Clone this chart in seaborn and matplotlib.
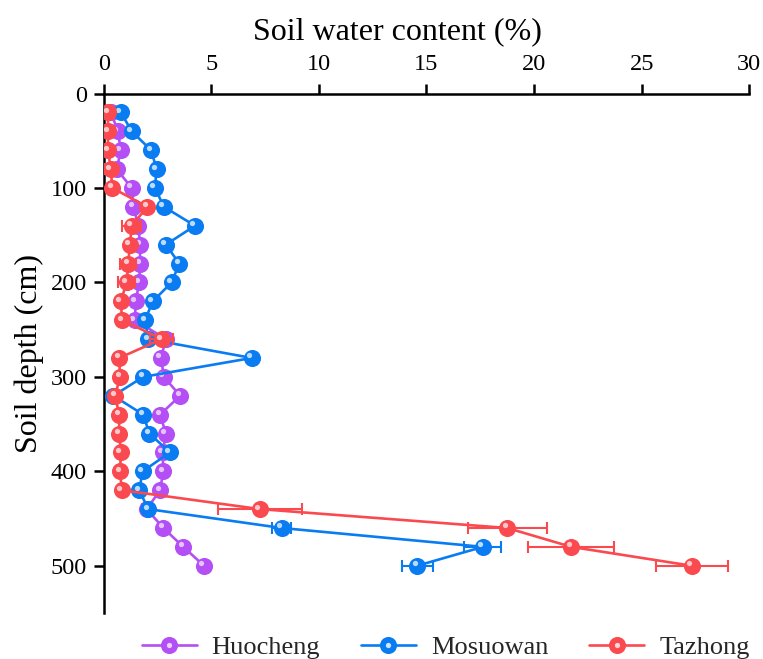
import matplotlib
matplotlib.use("Agg")
import numpy as np
import pandas as pd
import seaborn as sns
import matplotlib.pyplot as plt
from matplotlib.transforms import ScaledTranslation
from matplotlib.lines import Line2D
from matplotlib.legend_handler import HandlerTuple

# ---------------- data ----------------
depth = [20, 40, 60, 80, 100, 120, 140, 160, 180, 200, 220, 240, 260,
         280, 300, 320, 340, 360, 380, 400, 420, 440, 460, 480, 500]

huocheng = [0.35, 0.65, 0.80, 0.60, 1.30, 1.38, 1.61, 1.69, 1.69, 1.65, 1.49, 1.45, 2.89,
            2.66, 2.80, 3.55, 2.62, 2.89, 2.74, 2.77, 2.62, 2.00, 2.77, 3.70, 4.66]
huocheng_err = [0.05, 0.05, 0.05, 0.05, 0.05, 0.05, 0.05, 0.05, 0.05, 0.05, 0.05, 0.05, 0.05,
                0.05, 0.05, 0.05, 0.05, 0.05, 0.15, 0.05, 0.05, 0.20, 0.05, 0.05, 0.05]

mosuowan = [0.80, 1.30, 2.20, 2.46, 2.38, 2.80, 4.24, 2.89, 3.51, 3.16, 2.28, 1.92, 2.07,
            6.88, 1.84, 0.45, 1.84, 2.12, 3.08, 1.81, 1.65, 2.07, 8.27, 17.62, 14.56]
mosuowan_err = [0.05, 0.05, 0.05, 0.05, 0.05, 0.05, 0.05, 0.05, 0.05, 0.05, 0.05, 0.05, 0.10,
                0.10, 0.05, 0.15, 0.05, 0.05, 0.05, 0.05, 0.15, 0.15, 0.43, 0.86, 0.72]

tazhong = [0.20, 0.20, 0.20, 0.33, 0.40, 2.03, 1.30, 1.22, 1.14, 1.07, 0.79, 0.86, 2.70,
           0.72, 0.76, 0.53, 0.72, 0.72, 0.80, 0.76, 0.84, 7.26, 18.75, 21.73, 27.33]
tazhong_err = [0.10, 0.10, 0.10, 0.25, 0.05, 0.10, 0.45, 0.20, 0.37, 0.40, 0.10, 0.10, 0.54,
               0.05, 0.05, 0.05, 0.05, 0.05, 0.05, 0.05, 0.10, 1.95, 1.84, 2.00, 1.66]

sites = ["Huocheng", "Mosuowan", "Tazhong"]
colors = ["#b44ef5", "#0a7cf2", "#fa4a4f"]
highlights = ["#ead2fd", "#cfe6ff", "#ffd6d8"]
x_ticks = [0, 5, 10, 15, 20, 25, 30]
y_ticks = [0, 100, 200, 300, 400, 500]

# ---------------- figure ----------------
sns.set_theme(style="white")
plt.rcParams["font.family"] = ["Liberation Serif", "DejaVu Serif"]
plt.rcParams["mathtext.fontset"] = "stix"

W, H = 763, 659
AX_TOP, AX_BOT, AX_L, AX_R = 93.5, 613.0, 103.7, 749.3
fig = plt.figure(figsize=(W / 100, H / 100), dpi=100)
ax = fig.add_axes([AX_L / W, 1 - AX_BOT / H, (AX_R - AX_L) / W, (AX_BOT - AX_TOP) / H])

series = [huocheng, mosuowan, tazhong]
errors = [huocheng_err, mosuowan_err, tazhong_err]

ms = 12.3
hl_ms = 3.8
hl_shift = ScaledTranslation(-1.8 / 72, 1.8 / 72, fig.dpi_scale_trans)
handles = []
for i, (name, vals, errs, col, hcol) in enumerate(zip(sites, series, errors, colors, highlights)):
    df = pd.DataFrame({"swc": vals, "depth": depth})
    z = 3 + i * 3
    sns.lineplot(data=df, x="swc", y="depth", orient="y", sort=True, color=col,
                 linewidth=1.9, marker="o", markersize=ms, markeredgewidth=0,
                 markeredgecolor=col, ax=ax, zorder=z, estimator=None)
    ax.errorbar(df["swc"], df["depth"], xerr=errs, fmt="none", ecolor=col,
                elinewidth=1.5, capsize=4.5, capthick=1.5, zorder=z + 1)
    ax.plot(df["swc"], df["depth"], "o", ms=hl_ms, color=hcol, mec="none", alpha=0.9,
            transform=ax.transData + hl_shift, zorder=z + 2)
    h_main = Line2D([], [], color=col, lw=1.9, marker="o", ms=ms, mew=0)
    h_hl = Line2D([], [], color=hcol, lw=0, marker="o", ms=hl_ms, mew=0)
    handles.append((h_main, h_hl))

# ---------------- axes styling ----------------
ax.set_xlim(0, 30)
ax.set_ylim(550, 0)
ax.set_xticks(x_ticks)
ax.set_xticklabels([str(t) for t in x_ticks])
ax.set_yticks(y_ticks)
ax.set_yticklabels([str(t) for t in y_ticks])
ax.xaxis.tick_top()
ax.xaxis.set_label_position("top")

for side in ["right", "bottom"]:
    ax.spines[side].set_visible(False)
for side in ["top", "left"]:
    ax.spines[side].set_visible(True)
    ax.spines[side].set_linewidth(1.8)
    ax.spines[side].set_color("black")

ax.tick_params(axis="both", which="major", direction="out", length=7, width=1.8,
               color="black", labelsize=17.5, labelcolor="black")
ax.tick_params(axis="x", pad=6, top=True, bottom=False)
ax.tick_params(axis="y", pad=5, left=True)

ax.set_xlabel("Soil water content (%)", fontsize=23, color="black")
ax.xaxis.set_label_coords((397 - AX_L) / (AX_R - AX_L), 1 + (AX_TOP - 39) / (AX_BOT - AX_TOP))
ax.set_ylabel("Soil depth (cm)", fontsize=23, labelpad=5, color="black")
ax.grid(False)
ax.set_facecolor("white")

leg = fig.legend(handles, sites, handler_map={tuple: HandlerTuple(ndivide=1, pad=0)},
                 loc="center left", bbox_to_anchor=(141.7 / W, 1 - 647 / H),
                 ncol=3, frameon=False, borderpad=0, borderaxespad=0, fontsize=19,
                 handlelength=2.08, handletextpad=0.57, columnspacing=1.55)

fig.savefig("out.png", dpi=100, facecolor="white")
